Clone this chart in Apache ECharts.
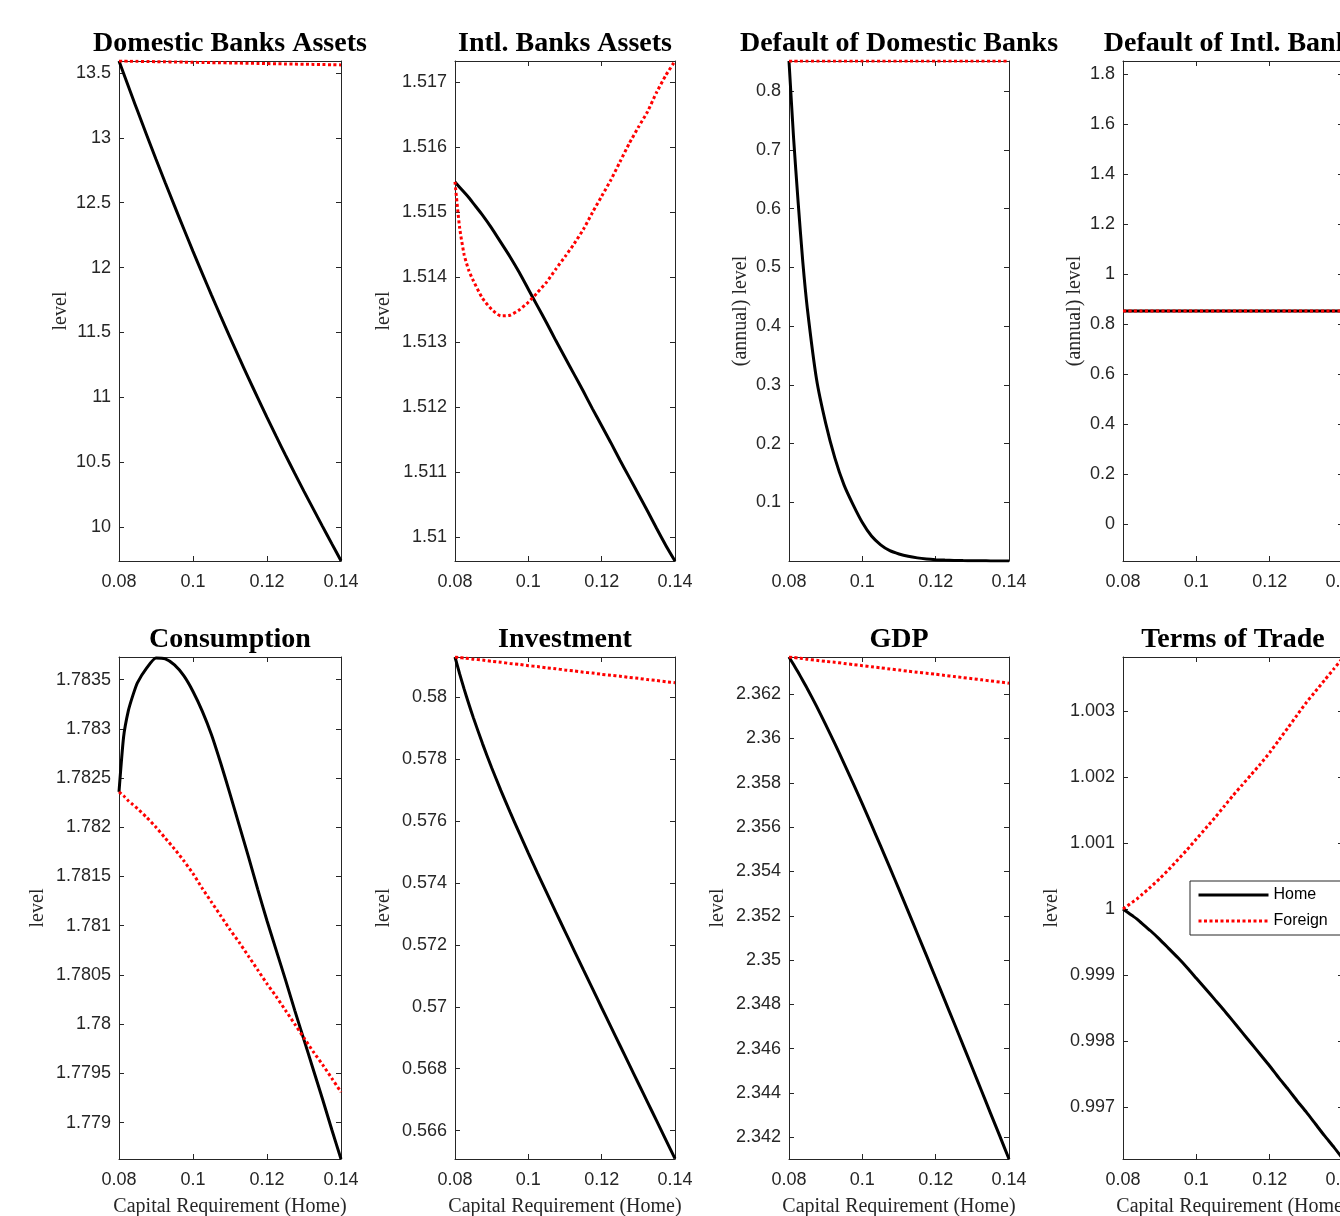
<!DOCTYPE html>
<html>
<head>
<meta charset="utf-8">
<script src="https://cdn.jsdelivr.net/npm/echarts@6/dist/echarts.min.js"></script>
<style>
  html, body { margin: 0; padding: 0; background: #fff; overflow: hidden; width: 1340px; height: 1216px; }
  /* the original figure is cut at the right edge, so the canvas runs past the window */
  #main { width: 1400px; height: 1216px; }
</style>
</head>
<body>
<div id="main"></div>
<script>
// capital requirement (home) on the x axis
var capReq = [0.08, 0.08125, 0.0825, 0.08375, 0.085, 0.0875, 0.09, 0.0925, 0.095, 0.0975, 0.1, 0.1025, 0.105, 0.1075,
  0.11, 0.1125, 0.115, 0.1175, 0.12, 0.1225, 0.125, 0.1275, 0.13, 0.1325, 0.135, 0.1375, 0.14];
var xTicks = [0.08, 0.1, 0.12, 0.14];

// Domestic Banks Assets
var domAssetsHome = [13.592, 13.495, 13.399, 13.303, 13.208, 13.020, 12.835, 12.654, 12.475, 12.299, 12.125, 11.955, 11.788, 11.623,
  11.462, 11.303, 11.148, 10.995, 10.845, 10.698, 10.554, 10.413, 10.275, 10.140, 10.005, 9.872, 9.740];
var domAssetsForeign = [13.5920, 13.5914, 13.5908, 13.5901, 13.5895, 13.5883, 13.5870, 13.5858, 13.5845, 13.5833, 13.5820, 13.5808, 13.5795, 13.5783,
  13.5770, 13.5758, 13.5745, 13.5733, 13.5720, 13.5708, 13.5695, 13.5683, 13.5670, 13.5658, 13.5645, 13.5633, 13.5620];
var domAssetsTicks = [10, 10.5, 11, 11.5, 12, 12.5, 13, 13.5];

// Intl. Banks Assets
var intlAssetsHome = [1.51546, 1.51538, 1.51530, 1.51522, 1.51513, 1.51495, 1.51475, 1.51453, 1.51431, 1.51407, 1.51381, 1.51355, 1.51329, 1.51302,
  1.51276, 1.51250, 1.51224, 1.51197, 1.51171, 1.51145, 1.51118, 1.51092, 1.51066, 1.51040, 1.51013, 1.50987, 1.50963];
var intlAssetsForeign = [1.51546, 1.51476, 1.51434, 1.51410, 1.51394, 1.51367, 1.51350, 1.51340, 1.51341, 1.51349, 1.51361, 1.51376, 1.51392, 1.51412,
  1.51431, 1.51451, 1.51473, 1.51499, 1.51524, 1.51549, 1.51577, 1.51605, 1.51630, 1.51654, 1.51684, 1.51710, 1.51732];
var intlAssetsTicks = [1.51, 1.511, 1.512, 1.513, 1.514, 1.515, 1.516, 1.517];

// Default of Domestic Banks
var domDefaultHome = [0.851, 0.72, 0.61, 0.51, 0.43, 0.31, 0.235, 0.176, 0.13, 0.096, 0.066, 0.043, 0.028, 0.018,
  0.0125, 0.0085, 0.0058, 0.004, 0.0028, 0.002, 0.0015, 0.0012, 0.001, 0.0008, 0.0007, 0.0006, 0.0005];
var domDefaultForeign = [0.851, 0.851, 0.851, 0.851, 0.851, 0.851, 0.851, 0.851, 0.851, 0.851, 0.851, 0.851, 0.851, 0.851,
  0.851, 0.851, 0.851, 0.851, 0.851, 0.851, 0.851, 0.851, 0.851, 0.851, 0.851, 0.851, 0.851];
var domDefaultTicks = [0.1, 0.2, 0.3, 0.4, 0.5, 0.6, 0.7, 0.8];

// Default of Intl. Banks
var intlDefaultHome = [0.852, 0.852, 0.852, 0.852, 0.852, 0.852, 0.852, 0.852, 0.852, 0.852, 0.852, 0.852, 0.852, 0.852,
  0.852, 0.852, 0.852, 0.852, 0.852, 0.852, 0.852, 0.852, 0.852, 0.852, 0.852, 0.852, 0.852];
var intlDefaultForeign = [0.852, 0.852, 0.852, 0.852, 0.852, 0.852, 0.852, 0.852, 0.852, 0.852, 0.852, 0.852, 0.852, 0.852,
  0.852, 0.852, 0.852, 0.852, 0.852, 0.852, 0.852, 0.852, 0.852, 0.852, 0.852, 0.852, 0.852];
var intlDefaultTicks = [0, 0.2, 0.4, 0.6, 0.8, 1, 1.2, 1.4, 1.6, 1.8];

// Consumption
var consHome = [1.78236, 1.78292, 1.78318, 1.78334, 1.78347, 1.78362, 1.78372, 1.78371, 1.78365, 1.78354, 1.78338, 1.78318, 1.78294, 1.78265,
  1.78234, 1.78202, 1.78170, 1.78137, 1.78105, 1.78075, 1.78045, 1.78014, 1.77984, 1.77954, 1.77924, 1.77893, 1.77863];
var consForeign = [1.78236, 1.78232, 1.78227, 1.78223, 1.78219, 1.78210, 1.78200, 1.78189, 1.78178, 1.78166, 1.78153, 1.78138, 1.78124, 1.78110,
  1.78096, 1.78083, 1.78069, 1.78055, 1.78041, 1.78028, 1.78014, 1.78000, 1.77986, 1.77972, 1.77959, 1.77945, 1.77931];
var consTicks = [1.779, 1.7795, 1.78, 1.7805, 1.781, 1.7815, 1.782, 1.7825, 1.783, 1.7835];

// Investment
var invHome = [0.58131, 0.58077, 0.58027, 0.57980, 0.57935, 0.57851, 0.57773, 0.57700, 0.57630, 0.57563, 0.57497, 0.57432, 0.57369, 0.57306,
  0.57244, 0.57182, 0.57120, 0.57059, 0.56997, 0.56936, 0.56875, 0.56814, 0.56753, 0.56692, 0.56631, 0.56570, 0.56509];
var invForeign = [0.58131, 0.58129, 0.58128, 0.58126, 0.58124, 0.58121, 0.58117, 0.58114, 0.58110, 0.58107, 0.58103, 0.58100, 0.58096, 0.58093,
  0.58089, 0.58086, 0.58082, 0.58079, 0.58075, 0.58072, 0.58069, 0.58065, 0.58062, 0.58058, 0.58055, 0.58051, 0.58048];
var invTicks = [0.566, 0.568, 0.57, 0.572, 0.574, 0.576, 0.578, 0.58];

// GDP
var gdpHome = [2.36368, 2.36334, 2.36299, 2.36262, 2.36225, 2.36146, 2.36063, 2.35977, 2.35888, 2.35798, 2.35705, 2.35610, 2.35514, 2.35417,
  2.35319, 2.35220, 2.35120, 2.35020, 2.34919, 2.34818, 2.34717, 2.34615, 2.34513, 2.34410, 2.34307, 2.34205, 2.34102];
var gdpForeign = [2.36368, 2.36366, 2.36363, 2.36361, 2.36358, 2.36353, 2.36348, 2.36344, 2.36339, 2.36334, 2.36329, 2.36324, 2.36319, 2.36314,
  2.36309, 2.36304, 2.36299, 2.36295, 2.36290, 2.36285, 2.36280, 2.36275, 2.36270, 2.36265, 2.36260, 2.36255, 2.36250];
var gdpTicks = [2.342, 2.344, 2.346, 2.348, 2.35, 2.352, 2.354, 2.356, 2.358, 2.36, 2.362];

// Terms of Trade
var totHome = [1.00000, 0.99995, 0.99990, 0.99985, 0.99979, 0.99967, 0.99954, 0.99940, 0.99926, 0.99911, 0.99895, 0.99879, 0.99863, 0.99847,
  0.99830, 0.99813, 0.99796, 0.99779, 0.99762, 0.99744, 0.99727, 0.99709, 0.99692, 0.99674, 0.99656, 0.99639, 0.99621];
var totForeign = [1.00000, 1.00005, 1.00010, 1.00015, 1.00021, 1.00033, 1.00046, 1.00060, 1.00075, 1.00090, 1.00106, 1.00122, 1.00138, 1.00155,
  1.00172, 1.00188, 1.00204, 1.00220, 1.00237, 1.00256, 1.00275, 1.00294, 1.00313, 1.00330, 1.00347, 1.00364, 1.00381];
var totTicks = [0.997, 0.998, 0.999, 1, 1.001, 1.002, 1.003];

var panelTitles = ['Domestic Banks Assets', 'Intl. Banks Assets', 'Default of Domestic Banks', 'Default of Intl. Banks',
  'Consumption', 'Investment', 'GDP', 'Terms of Trade'];
var yNames = ['level', 'level', '(annual) level', '(annual) level', 'level', 'level', 'level', 'level'];
var yMins = [9.738, 1.50963, 0.0005, -0.148, 1.77863, 0.56508, 2.34102, 0.99621];
var yMaxs = [13.592, 1.51732, 0.851, 1.852, 1.78373, 0.58131, 2.36368, 1.00382];
var yTickSets = [domAssetsTicks, intlAssetsTicks, domDefaultTicks, intlDefaultTicks, consTicks, invTicks, gdpTicks, totTicks];
var homeSets = [domAssetsHome, intlAssetsHome, domDefaultHome, intlDefaultHome, consHome, invHome, gdpHome, totHome];
var foreignSets = [domAssetsForeign, intlAssetsForeign, domDefaultForeign, intlDefaultForeign, consForeign, invForeign, gdpForeign, totForeign];
var xName = 'Capital Requirement (Home)';

// layout
var colLefts = [119, 455, 789, 1123];
var colWidths = [222, 220, 220, 220];
var rowTops = [61, 657];
var rowHeights = [500, 502];
var titleTops = [30, 626];
var nameGaps = [48, 61, 38, 38, 71, 61, 61, 61];

var axisColor = '#262626';
var sansFont = 'Liberation Sans';
var serifFont = 'Liberation Serif';

function fmt(v) {
  return String(parseFloat(v.toFixed(6)));
}

function pairs(xs, ys) {
  var out = [];
  for (var k = 0; k < xs.length; k++) out.push([xs[k], ys[k]]);
  return out;
}

var grids = [], xAxes = [], yAxes = [], titles = [], seriesList = [];

for (var i = 0; i < 8; i++) {
  var row = Math.floor(i / 4), col = i % 4;
  grids.push({
    left: colLefts[col], top: rowTops[row],
    width: colWidths[col], height: rowHeights[row],
    outerBoundsMode: 'none'
  });
  titles.push({
    text: panelTitles[i],
    left: colLefts[col] + colWidths[col] / 2,
    top: titleTops[row],
    textAlign: 'center',
    padding: 0,
    textStyle: { fontFamily: serifFont, fontWeight: 'bold', fontSize: 28, color: '#000' }
  });

  // bottom x axis (labels) and top x axis (box + ticks)
  xAxes.push({
    type: 'value', gridIndex: i, position: 'bottom', min: 0.08, max: 0.14,
    axisLine: { show: true, onZero: false, lineStyle: { color: axisColor, width: 1 } },
    axisTick: { show: true, inside: true, length: 5, customValues: xTicks, lineStyle: { color: axisColor } },
    axisLabel: { customValues: xTicks, formatter: fmt, color: axisColor, fontFamily: sansFont, fontSize: 18, margin: 12 },
    splitLine: { show: false },
    name: row === 1 ? xName : '',
    nameLocation: 'middle', nameGap: 38,
    nameTextStyle: { fontFamily: serifFont, fontSize: 20, color: axisColor }
  });
  xAxes.push({
    type: 'value', gridIndex: i, position: 'top', min: 0.08, max: 0.14,
    axisLine: { show: true, onZero: false, lineStyle: { color: axisColor, width: 1 } },
    axisTick: { show: true, inside: true, length: 5, customValues: xTicks, lineStyle: { color: axisColor } },
    axisLabel: { show: false },
    splitLine: { show: false }
  });

  // left y axis (labels) and right y axis (box + ticks)
  yAxes.push({
    type: 'value', gridIndex: i, position: 'left', min: yMins[i], max: yMaxs[i],
    axisLine: { show: true, onZero: false, lineStyle: { color: axisColor, width: 1 } },
    axisTick: { show: true, inside: true, length: 5, customValues: yTickSets[i], lineStyle: { color: axisColor } },
    axisLabel: { customValues: yTickSets[i], formatter: fmt, color: axisColor, fontFamily: sansFont, fontSize: 18, margin: 8 },
    splitLine: { show: false },
    name: yNames[i], nameLocation: 'middle', nameGap: nameGaps[i], nameRotate: 90,
    nameTextStyle: { fontFamily: serifFont, fontSize: 20, color: axisColor }
  });
  yAxes.push({
    type: 'value', gridIndex: i, position: 'right', min: yMins[i], max: yMaxs[i],
    axisLine: { show: true, onZero: false, lineStyle: { color: axisColor, width: 1 } },
    axisTick: { show: true, inside: true, length: 5, customValues: yTickSets[i], lineStyle: { color: axisColor } },
    axisLabel: { show: false },
    splitLine: { show: false }
  });

  seriesList.push({
    name: 'Home', type: 'line', xAxisIndex: 2 * i, yAxisIndex: 2 * i,
    data: pairs(capReq, homeSets[i]),
    symbol: 'none', smooth: 0.2,
    lineStyle: { color: '#000', width: 3 },
    itemStyle: { color: '#000' }
  });
  seriesList.push({
    name: 'Foreign', type: 'line', xAxisIndex: 2 * i, yAxisIndex: 2 * i,
    data: pairs(capReq, foreignSets[i]),
    symbol: 'none', smooth: 0.2,
    lineStyle: { color: '#ff0000', width: 3, type: [3, 2.5], cap: 'butt' },
    itemStyle: { color: '#ff0000' }
  });
}

var chart = echarts.init(document.getElementById('main'), null, { renderer: 'canvas' });

var option = {
  backgroundColor: '#fff',
  animation: false,
  title: titles,
  grid: grids,
  xAxis: xAxes,
  yAxis: yAxes,
  legend: {
    data: ['Home', 'Foreign'],
    orient: 'vertical',
    left: 1190, top: 881,
    itemWidth: 70, itemHeight: 14, itemGap: 10,
    padding: [6, 30, 6, 7],
    borderColor: axisColor, borderWidth: 1,
    backgroundColor: '#fff',
    selectedMode: false,
    itemStyle: { opacity: 0 },
    lineStyle: { width: 3 },
    textStyle: { fontFamily: sansFont, fontSize: 16, color: '#000' }
  },
  series: seriesList
};

chart.setOption(option);
</script>
</body>
</html>
